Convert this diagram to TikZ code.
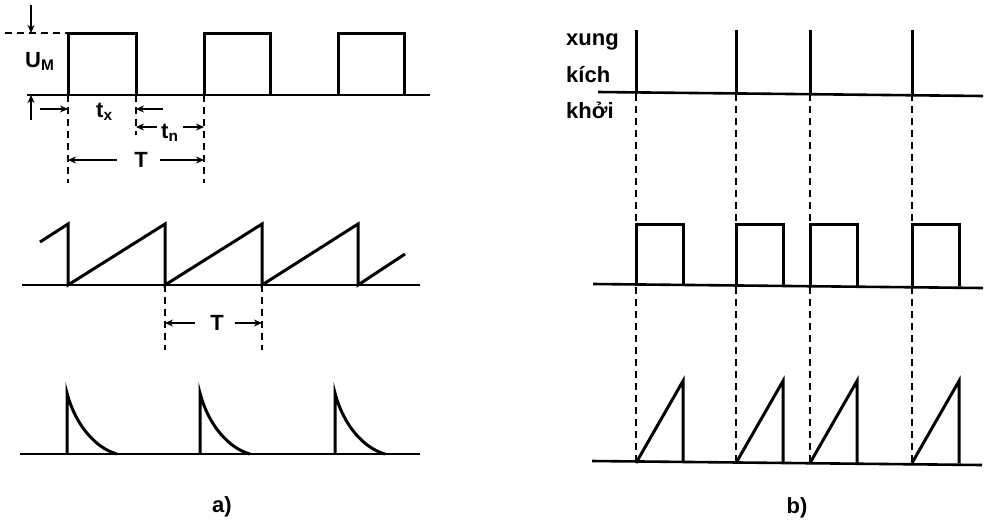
\documentclass[tikz,border=0pt]{standalone}
\usepackage{fontspec}
\setmainfont{Liberation Sans}
\usetikzlibrary{arrows.meta}
\begin{document}
\begin{tikzpicture}[x=1pt,y=-1pt,
  wave/.style={line width=3pt},
  base/.style={line width=2.6pt},
  guide/.style={line width=1.8pt, dash pattern=on 7pt off 5pt},
  dim/.style={line width=1.6pt,-{Stealth[length=8pt,width=7pt]}},
  lbl/.style={font=\fontsize{22}{26}\selectfont\bfseries, inner sep=0pt}]
\useasboundingbox (0,0) rectangle (991,520);

% ---------- a) square wave ----------
\draw[base] (27,95) -- (430,95);
\draw[wave] (68,95) -- (68,33) -- (136,33) -- (136,95);
\draw[wave] (204,95) -- (204,33) -- (270,33) -- (270,95);
\draw[wave] (338,95) -- (338,33) -- (404,33) -- (404,95);
\draw[guide] (5,33) -- (68,33);
\draw[dim] (31,5) -- (31,33);
\draw[dim] (31,120) -- (31,95);
\node[lbl, anchor=base west] (um) at (25,67) {U\textsubscript{M}};
\draw[guide] (68,95) -- (68,183);
\draw[guide] (136,95) -- (136,135);
\draw[guide] (204,95) -- (204,183);
\draw[dim] (40,109) -- (68,109);
\node[lbl, anchor=base west] (tx) at (96,117) {t\textsubscript{x}};
\draw[dim] (163,109) -- (136,109);
\draw[dim] (157,127) -- (136,127);
\node[lbl, anchor=base west] (tn) at (161,138) {t\textsubscript{n}};
\draw[dim] (183,127) -- (204,127);
\draw[dim] (117,160) -- (68,160);
\node[lbl, anchor=base] (T1) at (141,167) {T};
\draw[dim] (160,160) -- (204,160);

% ---------- a) sawtooth ----------
\draw[base] (22,285) -- (420,285);
\draw[wave] (40,242) -- (68,224) -- (68,285) -- (165,224) -- (165,285) -- (262,224) -- (262,285) -- (358,224) -- (358,285) -- (405,254);
\draw[guide] (165,285) -- (165,350);
\draw[guide] (262,285) -- (262,350);
\draw[dim] (195,323) -- (165,323);
\node[lbl, anchor=base] (T2) at (217,330) {T};
\draw[dim] (235,323) -- (262,323);

% ---------- a) exponential pulses ----------
\draw[base] (20,454) -- (420,454);
\foreach \x in {67,200,335}{
  \draw[wave] (\x,454) -- (\x,393) .. controls (\x+8,424) and (\x+28,448) .. (\x+50,454);
}
\node[lbl, anchor=base] (la) at (222,512) {a)};

% ---------- b) trigger pulses ----------
\node[lbl, anchor=base west] (l1) at (566,45) {xung};
\node[lbl, anchor=base west] (l2) at (566,82) {kích};
\node[lbl, anchor=base west] (l3) at (566,118) {khởi};
\draw[base] (598,92) -- (983,96);
\foreach \x in {636,736,810,912}{
  \draw[wave] (\x,30) -- (\x,94);
  \draw[guide] (\x,94) -- (\x,222);
  \draw[guide] (\x,287) -- (\x,463);
}

% ---------- b) gate pulses ----------
\draw[base] (593,284) -- (983,288);
\foreach \x in {636,736,810,912}{
  \draw[wave] (\x,286) -- (\x,224) -- (\x+47,224) -- (\x+47,286);
}

% ---------- b) ramps ----------
\draw[base] (592,461) -- (982,465);
\foreach \x in {636,736,810,912}{
  \draw[wave] (\x,463) -- (\x+47,381) -- (\x+47,463);
}
\node[lbl, anchor=base] (lb) at (797,513) {b)};
\end{tikzpicture}
\end{document}
